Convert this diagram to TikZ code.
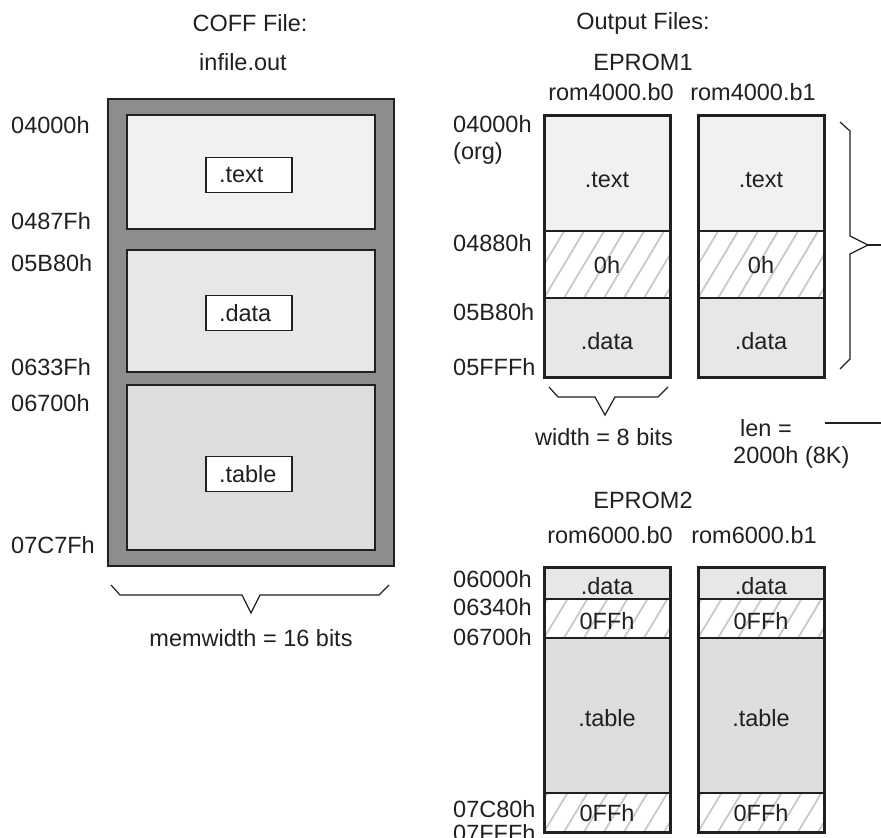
\documentclass[tikz,border=0pt]{standalone}
\usepackage{fontspec}
\setmainfont{Liberation Sans}
\usetikzlibrary{positioning}

\definecolor{coffgray}{HTML}{8C8D8F}
\definecolor{textfill}{HTML}{F1F1F1}
\definecolor{datafill}{HTML}{E6E7E8}
\definecolor{tablefill}{HTML}{DCDDDE}
\definecolor{hatchgray}{HTML}{C9CACB}
\definecolor{ink}{HTML}{231F20}

\tikzset{
  lbl/.style={inner sep=0pt, text=ink, font=\fontsize{23.5}{28}\selectfont},
  addr/.style={lbl, anchor=west},
  secbox/.style={lbl, draw=ink, line width=1.5pt, fill=white, text width=60pt,
    align=left, inner xsep=13pt, minimum height=35pt},
  coffframe/.style={draw=ink, line width=2pt, fill=coffgray},
  seg/.style={draw=ink, line width=2pt},
  divider/.style={draw=ink, line width=1.2pt},
  romframe/.style={draw=ink, line width=3pt},
  hatchline/.style={draw=hatchgray, line width=1.8pt},
  brace/.style={draw=ink, line width=1.2pt},
}

% zona hașurată
\newcommand{\hatchrect}[4]{%
  \begin{scope}
    \clip (#1,#2) rectangle (#3,#4);
    \fill[white] (#1,#2) rectangle (#3,#4);
    \foreach \k in {0,20,...,260}
      \draw[hatchline] (#1-100+\k,#4) -- ++(60,-100);
  \end{scope}}

\begin{document}
\begin{tikzpicture}[x=1pt,y=-1pt]
  \useasboundingbox (0,0) rectangle (881,838);

  % fișierul COFF
  \node[lbl] (cofftitle) at (250,23) {COFF File:};
  \node[lbl] (cofffile) at (243,62) {infile.out};
  \draw[coffframe] (108,99) rectangle (394,566);
  \draw[seg,fill=textfill] (127,115) rectangle (375,229);
  \draw[seg,fill=datafill] (127,250) rectangle (375,372);
  \draw[seg,fill=tablefill] (127,385) rectangle (375,550);
  \node[secbox] (secText) at (249,175) {.text};
  \node[secbox] (secData) at (249,313) {.data};
  \node[secbox] (secTable) at (249,474) {.table};

  % adrese COFF
  \foreach \y/\a in {125/04000h,221/0487Fh,263/05B80h,367/0633Fh,403/06700h,545/07C7Fh}
    \node[addr] (coff\a) at (11,\y) {\a};

  % acolada de jos
  \draw[brace] (111,585) -- (120,595) -- (242,595) -- (251,613) -- (260,595)
    -- (379,595) -- (389,585);
  \node[lbl] (memw) at (251,638) {memwidth = 16 bits};

  % EPROM1
  \node[lbl] (outtitle) at (643,23) {Output Files:};
  \node[lbl] (epA) at (643,62) {EPROM1};
  \node[lbl] (romAb0) at (611,92) {rom4000.b0};
  \node[lbl] (romAb1) at (753,92) {rom4000.b1};
  \foreach \x/\n in {544/0,698/1} {
    \fill[textfill] (\x,115) rectangle (\x+126,231);
    \hatchrect{\x}{231}{\x+126}{298}
    \fill[datafill] (\x,298) rectangle (\x+126,377);
    \draw[divider] (\x,231) -- (\x+126,231) (\x,298) -- (\x+126,298);
    \draw[romframe] (\x,115) rectangle (\x+126,377);
    \node[lbl] (epAtext\n) at (\x+63,180) {.text};
    \node[lbl] (epAzero\n) at (\x+63,265) {0h};
    \node[lbl] (epAdata\n) at (\x+63,341) {.data};
  }
  \foreach \y/\a in {124/04000h,153/(org),243/04880h,312/05B80h,367/05FFFh}
    \node[addr] at (453,\y) {\a};

  % acolade EPROM1
  \draw[brace] (549,387) -- (558,397) -- (595,397) -- (605,415) -- (615,397)
    -- (658,397) -- (668,387);
  \node[lbl] (widthlbl) at (604,437) {width = 8 bits};
  \coordinate (lentip) at (868,245);
  \coordinate (lenend) at (881,245);
  \draw[brace] (840,122) -- (850,131) -- (850,236) -- (lentip) -- (850,254)
    -- (850,359) -- (840,369);
  \draw[brace] (lentip) -- (lenend);
  \node[addr] (lenA) at (740,428) {len =};
  \node[addr] (lenB) at (733,457) {2000h (8K)};
  \coordinate (lenlineA) at (825,423);
  \coordinate (lenlineB) at (881,423);
  \draw[brace] (lenlineA) -- (lenlineB);

  % EPROM2
  \node[lbl] (epB) at (643,500) {EPROM2};
  \node[lbl] (romBb0) at (610,535) {rom6000.b0};
  \node[lbl] (romBb1) at (754,535) {rom6000.b1};
  \foreach \x/\n in {544/0,698/1} {
    \fill[datafill] (\x,567) rectangle (\x+126,599);
    \hatchrect{\x}{599}{\x+126}{638}
    \fill[tablefill] (\x,638) rectangle (\x+126,793);
    \hatchrect{\x}{793}{\x+126}{832}
    \draw[divider] (\x,599) -- (\x+126,599) (\x,638) -- (\x+126,638)
      (\x,793) -- (\x+126,793);
    \draw[romframe] (\x,567) rectangle (\x+126,832);
    \node[lbl] (epBdata\n) at (\x+63,586) {.data};
    \node[lbl] (epBff\n) at (\x+63,621) {0FFh};
    \node[lbl] (epBtable\n) at (\x+63,718) {.table};
    \node[lbl] (epBffend\n) at (\x+63,813) {0FFh};
  }
  \foreach \y/\a in {579/06000h,607/06340h,637/06700h,809/07C80h,833/07FFFh}
    \node[addr] at (453,\y) {\a};
\end{tikzpicture}
\end{document}
